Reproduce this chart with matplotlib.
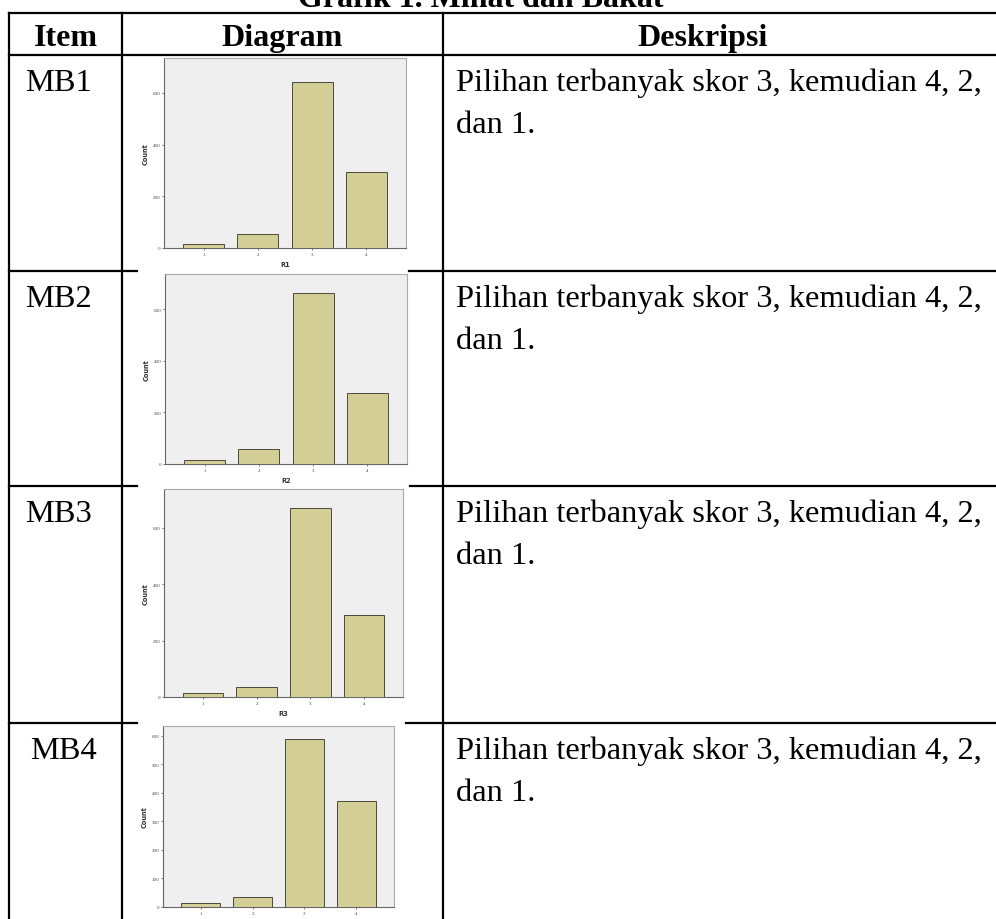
import numpy as np
import matplotlib
matplotlib.use("Agg")
import matplotlib.pyplot as plt
from matplotlib.lines import Line2D

W, H = 996, 920

# ---------------------------------------------------------------
# data
# ---------------------------------------------------------------
item_labels = ["MB1", "MB2", "MB3", "MB4"]
var_labels = ["R1", "R2", "R3", "R4"]
categories = ["1", "2", "3", "4"]
counts_r1 = [15, 55, 644, 294]
counts_r2 = [14, 57, 662, 275]
counts_r3 = [13, 35, 670, 292]
counts_r4 = [15, 35, 588, 371]
descriptions = [["Pilihan terbanyak skor 3, kemudian 4, 2,", "dan 1."]] * 4
headers = ["Item", "Diagram", "Deskripsi"]
title = "Grafik 1. Minat dan Bakat"

all_counts = [counts_r1, counts_r2, counts_r3, counts_r4]

plt.rcParams.update({
    "font.family": ["Liberation Serif", "DejaVu Serif"],
})

fig = plt.figure(figsize=(W / 100, H / 100), dpi=100)


def fx(x):
    return x / W


def fy(y):
    return 1 - y / H


def hline(y, x0, x1, lw=1.6):
    fig.add_artist(Line2D([fx(x0), fx(x1)], [fy(y), fy(y)], color="black",
                          lw=lw, transform=fig.transFigure))


def vline(x, y0, y1, lw=1.6):
    fig.add_artist(Line2D([fx(x), fx(x)], [fy(y0), fy(y1)], color="black",
                          lw=lw, transform=fig.transFigure))


# --- tabla -------------------------------------------------------
col_x = [9, 122, 443]
top_y, head_y = 14, 56
row_y = [56, 272, 487, 724]

hline(top_y, 9, 996)
hline(head_y, 9, 996)
# las separaciones de fila quedan tapadas por las imagenes de los graficos
gaps = [(137, 409), (137, 410), (137, 406)]
for y, (g0, g1) in zip(row_y[1:], gaps):
    hline(y, 9, g0)
    hline(y, g1, 996)
for x in col_x:
    vline(x, top_y, 920)

# el titulo queda cortado arriba, como en el documento original
fig.text(fx(481), fy(7), title, ha="center", va="baseline",
         fontsize=23, fontweight="bold")

head_centers = [65.5, 282.5, 703]
for cx, txt in zip(head_centers, headers):
    fig.text(fx(cx), fy(46), txt, ha="center", va="baseline",
             fontsize=23, fontweight="bold")

line_gap = 42
for i, ry in enumerate(row_y):
    fig.text(fx(25 if i < 3 else 30), fy(ry + 35), item_labels[i],
             ha="left", va="baseline", fontsize=23.4)
    for j, ln in enumerate(descriptions[i]):
        fig.text(fx(456), fy(ry + 35 + j * line_gap), ln, ha="left",
                 va="baseline", fontsize=23.4)

# --- graficos SPSS -----------------------------------------------
# (left, top, right, bottom) en pixeles
chart_boxes = [(164, 59, 406, 249), (165, 275, 407, 465),
               (164, 490, 403, 698), (163, 727, 394, 908)]
y_tops = [735, 737, 738, 635]
y_steps = [200, 200, 200, 100]

bar_fill = "#D3CE96"
bar_edge = "#4a4a3a"
plot_bg = "#EFEFEF"

for k in range(4):
    l, t, r, b = chart_boxes[k]
    ax = fig.add_axes([fx(l), fy(b), (r - l) / W, (b - t) / H])
    ax.set_facecolor(plot_bg)
    xpos = np.arange(len(categories))
    ax.bar(xpos, all_counts[k], width=0.76, color=bar_fill,
           edgecolor=bar_edge, linewidth=0.7, zorder=3)
    ax.set_xlim(-0.73, 3.73)
    ax.set_ylim(0, y_tops[k])
    ax.set_xticks(xpos)
    ax.set_xticklabels(categories)
    ax.set_yticks(np.arange(0, 601, y_steps[k]))
    ax.tick_params(axis="both", labelsize=3.6, length=1.5, width=0.5,
                   colors="#444444", pad=1.2)
    for side in ["top", "right"]:
        ax.spines[side].set_color("#aaaaaa")
        ax.spines[side].set_linewidth(0.8)
    for side in ["left", "bottom"]:
        ax.spines[side].set_color("#666666")
        ax.spines[side].set_linewidth(0.8)
    ax.set_ylabel("Count", fontsize=4.8, fontweight="bold",
                  family="DejaVu Sans", labelpad=3, color="#333333")
    ax.set_xlabel(var_labels[k], fontsize=4.8, fontweight="bold",
                  family="DejaVu Sans", labelpad=4, color="#333333")

fig.savefig("out.png", dpi=100)
